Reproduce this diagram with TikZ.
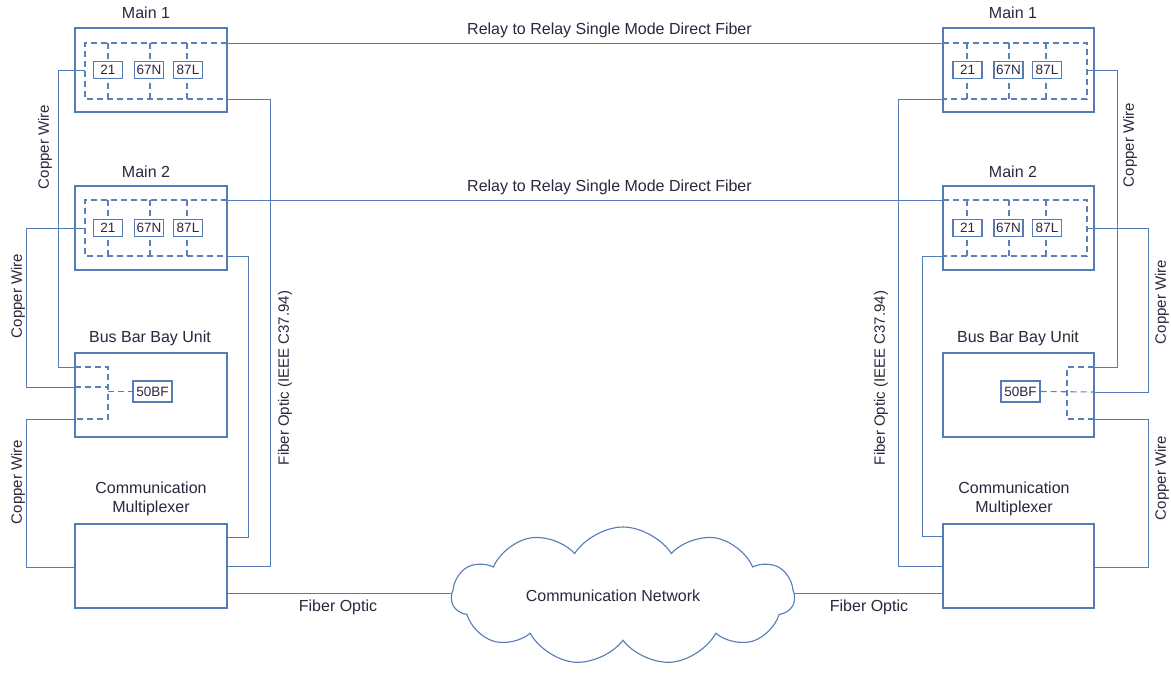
\documentclass[tikz,border=0pt]{standalone}
\usepackage{fontspec}
\setmainfont{Liberation Sans}
\usetikzlibrary{shapes.symbols}
\definecolor{ln}{RGB}{84,124,182}
\definecolor{dl}{RGB}{92,128,186}
\definecolor{tx}{RGB}{45,38,62}
\tikzset{
  box/.style={draw=ln, line width=1.2pt, inner sep=0pt, minimum width=152pt, minimum height=84pt},
  relay/.style={draw=ln, fill=white, line width=1.2pt, inner sep=0pt, minimum width=29pt, minimum height=17pt, text=tx, font=\fontsize{13.5}{14}\selectfont},
  dsh/.style={draw=dl, line width=1.1pt, dash pattern=on 6pt off 4pt},
  wire/.style={draw=ln, line width=0.95pt},
  lbl/.style={text=tx, font=\fontsize{16}{19}\selectfont, inner sep=0pt, align=center},
  vlbl/.style={text=tx, font=\fontsize{15}{17}\selectfont, inner sep=0pt, rotate=90},
}
\begin{document}
\begin{tikzpicture}[x=1pt,y=-1pt]
\useasboundingbox (0,0) rectangle (1171,677);
\fill[white] (0,0) rectangle (1171,677);

% ---------- coordinates ----------
\coordinate (latl) at (85,43);  \coordinate (labl) at (85,99);
\coordinate (latr) at (227,43); \coordinate (labr) at (227,99);
\coordinate (lbtl) at (85,200); \coordinate (lbbl) at (85,256);
\coordinate (lbtr) at (227,200);\coordinate (lbbr) at (227,256);
\coordinate (ratl) at (943,43);  \coordinate (rabl) at (943,99);
\coordinate (ratr) at (1087,43); \coordinate (rabr) at (1087,99);
\coordinate (rbtl) at (943,200); \coordinate (rbbl) at (943,256);
\coordinate (rbtr) at (1087,200);\coordinate (rbbr) at (1087,256);

% ---------- LEFT SIDE ----------
\node[box] (m1l) at (151,70) {};
\node[box] (m2l) at (151,228) {};
\node[box] (bbl) at (151,395) {};
\node[box] (mxl) at (151,566) {};
\node[lbl] (m1lt) at (146,13) {Main 1};
\node[lbl] (m2lt) at (146,172) {Main 2};
\node[lbl] (bblt) at (150,338) {Bus Bar Bay Unit};
\node[lbl] (mxlt) at (151,499) {Communication\\Multiplexer};

\draw[dsh] (latr) -- (latl) -- (labl) -- (labr);
\draw[dsh] (lbtr) -- (lbtl) -- (lbbl) -- (lbbr);
\foreach \t/\b in {43/99,200/256}{
  \foreach \x in {108,150,187}{ \draw[dsh] (\x,\t) -- (\x,\b); }
}
\node[relay] (r21a) at (108,70) {21};
\node[relay] (r67a) at (149,70) {67N};
\node[relay] (r87a) at (188,70) {87L};
\node[relay] (r21b) at (108,228) {21};
\node[relay] (r67b) at (149,228) {67N};
\node[relay] (r87b) at (188,228) {87L};

% bus bar dashed (left)
\coordinate (bl1) at (75,367); \coordinate (bl2) at (75,387); \coordinate (bl3) at (75,419);
\draw[dsh] (bl1) -- (108,367) -- (108,419) -- (bl3);
\draw[dsh] (bl2) -- (108,387);
\node[relay, minimum width=39pt, minimum height=21pt, font=\fontsize{13.5}{14}\selectfont] (bfl) at (152.5,391.5) {50BF};
\draw[dsh] (108,391.5) -- (bfl.west);

% wires (left)
\draw[wire] (85,70) -- (58,70) -- (58,367) -- (bl1);
\draw[wire] (85,228) -- (26,228) -- (26,387) -- (bl2);
\draw[wire] (bl3) -- (26,419) -- (26,567) -- (75,567);
\draw[wire] (labr) -- (270,99) -- (270,566) -- (227,566);
\draw[wire] (lbbr) -- (248,256) -- (248,537) -- (227,537);

% ---------- RIGHT SIDE ----------
\node[box, minimum width=151pt] (m1r) at (1018.5,70) {};
\node[box, minimum width=151pt] (m2r) at (1018.5,228) {};
\node[box, minimum width=151pt] (bbr) at (1018.5,395) {};
\node[box, minimum width=151pt] (mxr) at (1018.5,566) {};
\node[lbl] (m1rt) at (1013,13) {Main 1};
\node[lbl] (m2rt) at (1013,172) {Main 2};
\node[lbl] (bbrt) at (1018,338) {Bus Bar Bay Unit};
\node[lbl] (mxrt) at (1014,499) {Communication\\Multiplexer};

\draw[dsh] (ratl) -- (ratr) -- (rabr) -- (rabl);
\draw[dsh] (rbtl) -- (rbtr) -- (rbbr) -- (rbbl);
\foreach \t/\b in {43/99,200/256}{
  \foreach \x in {967,1009,1046}{ \draw[dsh] (\x,\t) -- (\x,\b); }
}
\node[relay] (s21a) at (967.5,70) {21};
\node[relay] (s67a) at (1008.5,70) {67N};
\node[relay] (s87a) at (1047,70) {87L};
\node[relay] (s21b) at (967.5,228) {21};
\node[relay] (s67b) at (1008.5,228) {67N};
\node[relay] (s87b) at (1047,228) {87L};

\coordinate (br1) at (1094,367); \coordinate (br2) at (1094,392); \coordinate (br3) at (1094,419);
\draw[dsh] (br1) -- (1067,367) -- (1067,419) -- (br3);
\node[relay, minimum width=39pt, minimum height=21pt, font=\fontsize{13.5}{14}\selectfont] (bfr) at (1020.5,391.5) {50BF};
\draw[dsh] (bfr.east) -- (br2);

\draw[wire] (1087,70) -- (1117,70) -- (1117,367) -- (br1);
\draw[wire] (1087,228) -- (1148,228) -- (1148,392) -- (br2);
\draw[wire] (br3) -- (1148,419) -- (1148,567) -- (1094,567);
\draw[wire] (rabl) -- (898,99) -- (898,566) -- (943,566);
\draw[wire] (rbbl) -- (922,256) -- (922,536) -- (943,536);

% ---------- RELAY TO RELAY ----------
\draw[wire] (latr) -- (ratl);
\draw[wire] (lbtr) -- (rbtl);
\node[lbl] (rr1) at (609.5,30) {Relay to Relay Single Mode Direct Fiber};
\node[lbl] (rr2) at (609.5,187) {Relay to Relay Single Mode Direct Fiber};

% ---------- CLOUD ----------
\node[cloud, draw=ln, line width=1.1pt, cloud puffs=11, cloud puff arc=115, aspect=2.5,
      minimum width=343pt, minimum height=138pt, inner sep=0pt] (net) at (623,596) {};
\node[lbl] (nett) at (613,596) {Communication Network};
\draw[wire] (227,593) -- (net.west |- 0,593);
\draw[wire] (net.east |- 0,593) -- (943,593);
\node[lbl] (fol) at (338,607) {Fiber Optic};
\node[lbl] (for) at (869,607) {Fiber Optic};

% ---------- VERTICAL LABELS ----------
\node[vlbl] (cw1) at (45,147) {Copper Wire};
\node[vlbl] (cw2) at (18,296) {Copper Wire};
\node[vlbl] (cw3) at (18,482) {Copper Wire};
\node[vlbl] (cw4) at (1130,145) {Copper Wire};
\node[vlbl] (cw5) at (1162,302) {Copper Wire};
\node[vlbl] (cw6) at (1162,478) {Copper Wire};
\node[vlbl] (fo1) at (285,378) {Fiber Optic (IEEE C37.94)};
\node[vlbl] (fo2) at (881,378) {Fiber Optic (IEEE C37.94)};
\end{tikzpicture}
\end{document}
